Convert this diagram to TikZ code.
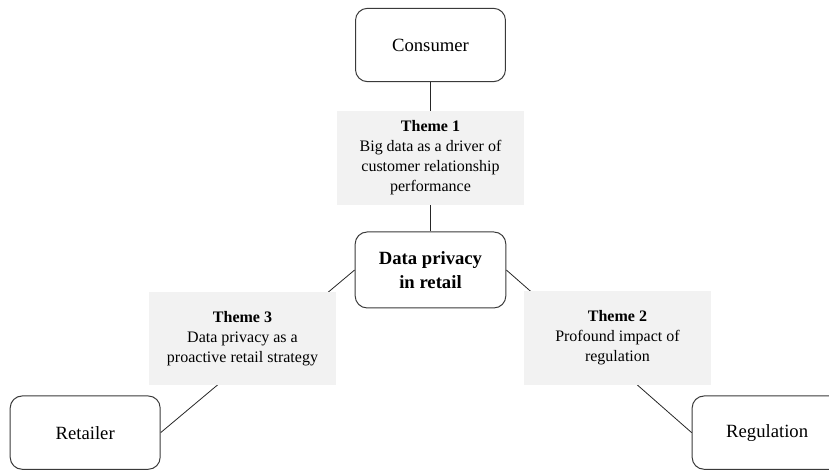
\documentclass[tikz,border=0pt]{standalone}
\usepackage{fontspec}
\setmainfont{Liberation Serif}
\usetikzlibrary{positioning}
\definecolor{themegray}{HTML}{F2F2F2}
\definecolor{edgegray}{HTML}{3A3A3A}
\tikzstyle{entity} = [rectangle, draw=edgegray, line width=0.75pt, rounded corners=9pt, minimum width=112.5pt, minimum height=55pt, align=center, font=\fontsize{14}{17}\selectfont]
\tikzstyle{core} = [entity, minimum width=113pt, minimum height=57pt, font=\fontsize{14}{18.5}\selectfont\bfseries]
\tikzstyle{theme} = [rectangle, fill=themegray, minimum width=140pt, minimum height=70pt, align=center, font=\fontsize{12}{15}\selectfont]
\tikzstyle{link} = [draw=black!85, line width=0.6pt]

\begin{document}
\begin{tikzpicture}[node distance=84pt]
    \useasboundingbox (-322.9pt,-150pt) rectangle (298.9pt,202.5pt);

    \node[core] (core) at (0,0) {Data privacy\\in retail};
    \node[entity, above of=core, node distance=168.75pt] (consumer) {Consumer};
    \node[entity] (retailer) at (-259pt,-122pt) {Retailer};
    \node[entity] (regulation) at (252.5pt,-122pt) {Regulation};

    % links run under the theme boxes
    \draw[link] (consumer) -- (core);
    \draw[link] (core.west) -- (retailer.east);
    \draw[link] (core.east) -- (regulation.west);

    \node[theme, above of=core] (theme1) {\textbf{Theme 1}\\Big data as a driver of\\customer relationship\\performance};
    \node[theme] (theme3) at (-141pt,-51.4pt) {\textbf{Theme 3}\\Data privacy as a\\proactive retail strategy};
    \node[theme] (theme2) at (140.25pt,-51pt) {\textbf{Theme 2}\\Profound impact of\\regulation};
\end{tikzpicture}
\end{document}
